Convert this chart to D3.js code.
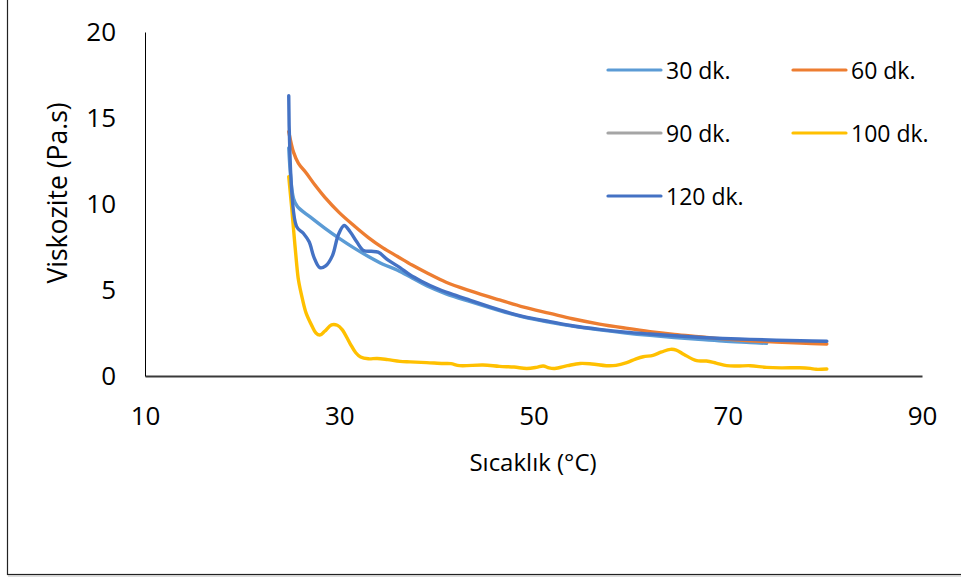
<!DOCTYPE html>
<html>
<head>
<meta charset="utf-8">
<script src="https://cdn.jsdelivr.net/npm/d3@7"></script>
<style>
  html, body { margin: 0; padding: 0; background: #fff; }
  svg { display: block; font-family: "Open Sans", sans-serif; }
</style>
</head>
<body>
<svg id="chart" width="961" height="581"></svg>
<script>
// Viscosity (Pa.s) against temperature (°C) for each mixing time
const seriesNames = ["30 dk.", "60 dk.", "90 dk.", "100 dk.", "120 dk."];
const seriesColors = ["#5B9BD5", "#ED7D31", "#A5A5A5", "#FFC000", "#4472C4"];

const temp30 = [24.8, 25.3, 25.7, 27, 28.5, 30, 31.5, 33, 34.5, 36, 37.5, 39, 41, 43.5, 46.5, 49, 51.7, 54, 56.8, 59.5, 62, 64.5, 67, 69.5, 72.3, 74];
const visc30 = [13.26, 10.3, 9.85, 9.25, 8.6, 8.0, 7.45, 6.95, 6.5, 6.15, 5.7, 5.25, 4.78, 4.32, 3.8, 3.42, 3.12, 2.9, 2.68, 2.5, 2.36, 2.24, 2.13, 2.03, 1.95, 1.9];

const temp60 = [24.8, 25.3, 25.8, 26.6, 27.5, 28.5, 30, 31.5, 33, 34.5, 36, 37.5, 39, 41, 43.5, 46.5, 49, 51.7, 54, 56.8, 59.5, 62, 64.5, 67, 69.5, 72.3, 75, 77.5, 80.2];
const visc60 = [14.2, 13.0, 12.36, 11.8, 11.1, 10.4, 9.5, 8.75, 8.05, 7.45, 6.95, 6.45, 6.0, 5.45, 4.95, 4.42, 4.0, 3.64, 3.33, 3.02, 2.78, 2.58, 2.42, 2.29, 2.16, 2.05, 1.97, 1.91, 1.86];

// 90 dk. appears in the legend only
const temp90 = [];
const visc90 = [];

const temp100 = [24.8, 25.1, 25.3, 25.6, 25.8, 26.2, 26.6, 27.2, 27.6, 28.0, 28.5, 29.2, 29.8, 30.3, 31.1, 31.7, 32.2, 33.0, 33.9, 35, 36.25, 37.3, 39, 40.7, 41.5, 42.4, 44.8, 46.5, 48, 49.3, 50.3, 51.0, 51.6, 52.2, 53.5, 54.8, 56, 57.5, 58.5, 59.6, 60.5, 61.3, 62.3, 63.2, 64.1, 64.7, 65.5, 66.8, 67.8, 68.8, 69.9, 71.0, 72.3, 74.0, 75.5, 77.4, 78.5, 79.1, 80.2];
const visc100 = [11.59, 9.8, 8.5, 6.6, 5.58, 4.5, 3.64, 2.9, 2.5, 2.38, 2.6, 2.97, 2.95, 2.7, 1.9, 1.35, 1.1, 1.0, 1.02, 0.95, 0.85, 0.82, 0.78, 0.73, 0.72, 0.6, 0.64, 0.56, 0.52, 0.44, 0.5, 0.58, 0.47, 0.44, 0.6, 0.73, 0.7, 0.6, 0.62, 0.78, 0.98, 1.12, 1.2, 1.4, 1.55, 1.51, 1.25, 0.89, 0.87, 0.75, 0.6, 0.58, 0.6, 0.5, 0.47, 0.48, 0.44, 0.39, 0.41];

const temp120 = [24.8, 25.6, 26.3, 26.9, 27.4, 28.0, 28.6, 29.3, 29.9, 30.5, 31.1, 31.8, 32.5, 33.3, 34.0, 35, 36.25, 37.3, 38.5, 40, 41.4, 43.5, 46.5, 49, 51.7, 54, 56.8, 59.5, 62, 64.5, 67, 69.5, 72.3, 75, 77.5, 80.2];
const visc120 = [16.3, 8.7, 8.3, 7.8, 6.9, 6.3, 6.4, 7.0, 8.2, 8.75, 8.4, 7.8, 7.3, 7.25, 7.2, 6.75, 6.3, 5.87, 5.5, 5.1, 4.8, 4.4, 3.84, 3.45, 3.16, 2.92, 2.71, 2.55, 2.44, 2.34, 2.25, 2.18, 2.13, 2.08, 2.05, 2.02];

const xTicks = [10, 30, 50, 70, 90];
const yTicks = [0, 5, 10, 15, 20];

const seriesTemps = [temp30, temp60, temp90, temp100, temp120];
const seriesVisc = [visc30, visc60, visc90, visc100, visc120];

const svg = d3.select("#chart");

// Outer frame (only its left and bottom edges fall inside the page)
svg.append("rect")
  .attr("x", 7.5).attr("y", -10)
  .attr("width", 1000).attr("height", 584.5)
  .attr("fill", "none").attr("stroke", "#222").attr("stroke-width", 1.2);
svg.append("line")
  .attr("x1", 8).attr("x2", 961).attr("y1", 576).attr("y2", 576)
  .attr("stroke", "#bbb").attr("stroke-width", 1);

const x = d3.scaleLinear().domain([10, 90]).range([145, 922]);
const y = d3.scaleLinear().domain([0, 20]).range([376, 32]);

// Axes
const xAxis = svg.append("g")
  .attr("transform", `translate(0,${y(0)})`)
  .call(d3.axisBottom(x).tickValues(xTicks).tickSize(0).tickPadding(31).tickFormat(d3.format("d")));
xAxis.select(".domain").attr("stroke", "#3a3a3a").attr("stroke-width", 1.8);
xAxis.selectAll("text").attr("font-size", 26).attr("fill", "#000").attr("font-family", "Open Sans");

const yAxis = svg.append("g")
  .attr("transform", `translate(${x(10)},0)`)
  .call(d3.axisLeft(y).tickValues(yTicks).tickSize(0).tickPadding(29).tickFormat(d3.format("d")));
yAxis.select(".domain").attr("stroke", "#000").attr("stroke-width", 1);
yAxis.selectAll("text").attr("font-size", 26).attr("fill", "#000").attr("font-family", "Open Sans");

// Axis titles
svg.append("text")
  .attr("x", 533).attr("y", 471)
  .attr("text-anchor", "middle")
  .attr("font-size", 24).attr("fill", "#000")
  .text("Sıcaklık (°C)");

svg.append("text")
  .attr("transform", `translate(67,193) rotate(-90)`)
  .attr("text-anchor", "middle")
  .attr("font-size", 26.5).attr("fill", "#000")
  .text("Viskozite (Pa.s)");

// Curves
const line = d3.line()
  .x(d => x(d[0]))
  .y(d => y(d[1]))
  .curve(d3.curveCatmullRom.alpha(0.5));

const plot = svg.append("g");
seriesNames.forEach((name, i) => {
  const pts = seriesTemps[i].map((t, j) => [t, seriesVisc[i][j]]);
  if (!pts.length) return;
  plot.append("path")
    .datum(pts)
    .attr("d", line)
    .attr("fill", "none")
    .attr("stroke", seriesColors[i])
    .attr("stroke-width", 3.4)
    .attr("stroke-linejoin", "round")
    .attr("stroke-linecap", "round");
});

// Legend: two columns, three rows
const legendCols = [608, 793];
const legendRows = [70, 133, 196];
const legend = svg.append("g");
seriesNames.forEach((name, i) => {
  const lx = legendCols[i % 2];
  const ly = legendRows[Math.floor(i / 2)];
  legend.append("line")
    .attr("x1", lx).attr("x2", lx + 53)
    .attr("y1", ly).attr("y2", ly)
    .attr("stroke", seriesColors[i])
    .attr("stroke-width", 3.2)
    .attr("stroke-linecap", "round");
  legend.append("text")
    .attr("x", lx + 58).attr("y", ly + 8.5)
    .attr("font-size", 23).attr("fill", "#000")
    .text(name);
});
</script>
</body>
</html>
